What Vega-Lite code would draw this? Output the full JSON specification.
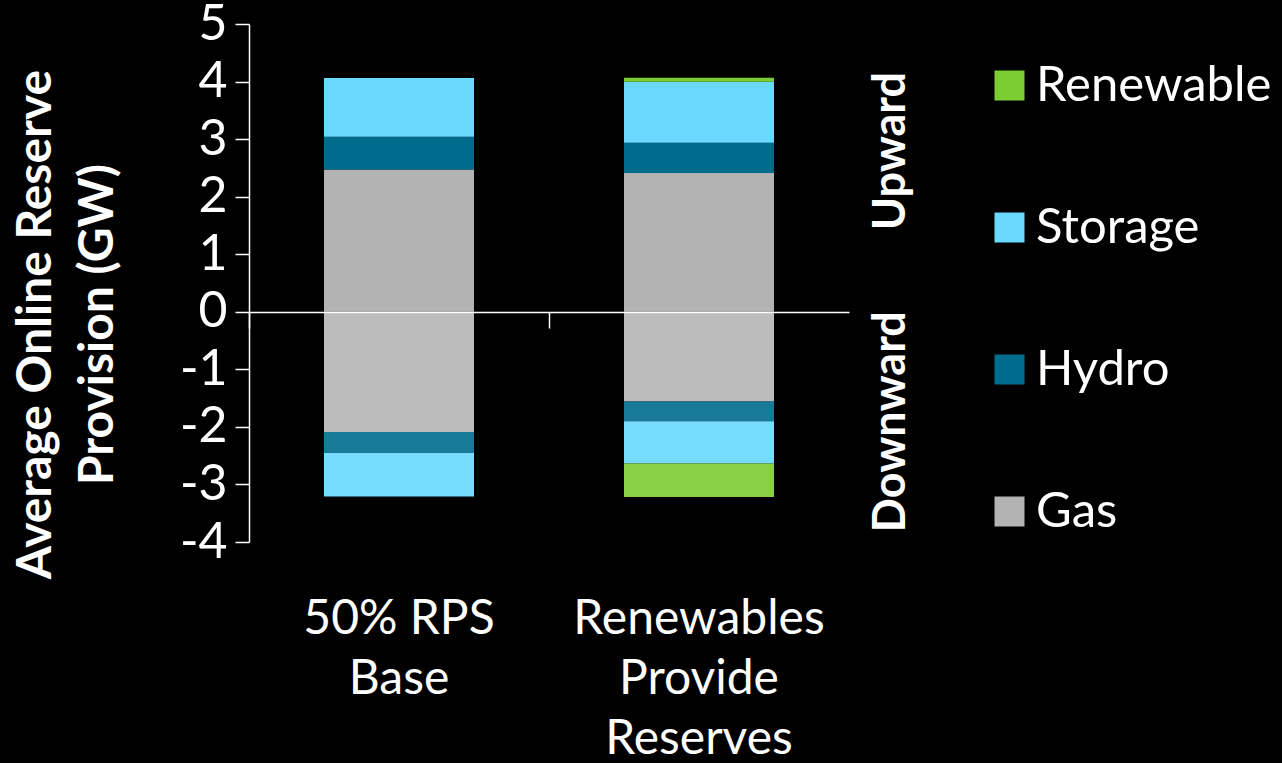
{
  "$schema": "https://vega.github.io/schema/vega-lite/v6.json",
  "width": 600,
  "height": 518,
  "autosize": "none",
  "padding": {"left": 249, "top": 24, "right": 433, "bottom": 221},
  "background": "black",
  "config": {
    "view": {"stroke": null},
    "font": "Lato"
  },
  "data": {
    "values": [
      {"scenario": "50% RPS|Base", "shade": "Gas", "ord": 1, "value": 2.47},
      {"scenario": "50% RPS|Base", "shade": "Hydro", "ord": 2, "value": 0.57},
      {"scenario": "50% RPS|Base", "shade": "Storage", "ord": 3, "value": 1.02},
      {"scenario": "50% RPS|Base", "shade": "Gas downward", "ord": 1, "value": -2.09},
      {"scenario": "50% RPS|Base", "shade": "Hydro downward", "ord": 2, "value": -0.365},
      {"scenario": "50% RPS|Base", "shade": "Storage downward", "ord": 3, "value": -0.755},
      {"scenario": "Renewables|Provide|Reserves", "shade": "Gas", "ord": 1, "value": 2.41},
      {"scenario": "Renewables|Provide|Reserves", "shade": "Hydro", "ord": 2, "value": 0.525},
      {"scenario": "Renewables|Provide|Reserves", "shade": "Storage", "ord": 3, "value": 1.06},
      {"scenario": "Renewables|Provide|Reserves", "shade": "Renewable", "ord": 4, "value": 0.07},
      {"scenario": "Renewables|Provide|Reserves", "shade": "Gas downward", "ord": 1, "value": -1.56},
      {"scenario": "Renewables|Provide|Reserves", "shade": "Hydro downward", "ord": 2, "value": -0.34},
      {"scenario": "Renewables|Provide|Reserves", "shade": "Storage downward", "ord": 3, "value": -0.735},
      {"scenario": "Renewables|Provide|Reserves", "shade": "Renewable downward", "ord": 4, "value": -0.585}
    ]
  },
  "layer": [
    {
      "mark": {"type": "bar"},
      "encoding": {
        "x": {
          "field": "scenario", "type": "nominal", "sort": null,
          "scale": {"paddingInner": 0.5, "paddingOuter": 0.25},
          "axis": {
            "title": null, "domain": false, "ticks": false, "labelAngle": 0,
            "labelExpr": "split(datum.value, '|')", "labelLimit": 0,
            "labelFontSize": 48, "labelColor": "white", "labelLineHeight": 60,
            "labelPadding": 53, "labelBaseline": "top"
          }
        },
        "y": {
          "field": "value", "type": "quantitative", "stack": "zero",
          "scale": {"domain": [-4, 5], "nice": false},
          "axis": {
            "values": [-4, -3, -2, -1, 0, 1, 2, 3, 4, 5],
            "labelExpr": "toString(datum.value)",
            "grid": false, "domainColor": "white", "domainWidth": 1.5,
            "tickColor": "white", "tickSize": 14, "tickWidth": 1.5,
            "labelFontSize": 50, "labelColor": "white", "labelPadding": 8,
            "title": ["Average Online Reserve", "Provision (GW)"],
            "titleColor": "white", "titleFontSize": 48, "titleFontWeight": "bold",
            "titleLineHeight": 62, "titleX": -237, "titleY": 300, "titleLimit": 0,
            "titleBaseline": "top", "titleAngle": -90
          }
        },
        "color": {
          "field": "shade", "type": "nominal",
          "scale": {
            "domain": ["Renewable", "Storage", "Hydro", "Gas", "Renewable downward", "Storage downward", "Hydro downward", "Gas downward"],
            "range": ["#7ccd33", "#69d9ff", "#006c8d", "#b3b3b3", "#88d146", "#78dcff", "#177b98", "#bcbcbc"]
          },
          "legend": {
            "values": ["Renewable", "Storage", "Hydro", "Gas"],
            "title": null, "orient": "none", "legendX": 736, "legendY": 37,
            "symbolType": "square", "symbolSize": 900, "symbolStrokeWidth": 0,
            "labelFontSize": 49, "labelColor": "white", "labelOffset": 2,
            "labelLimit": 0, "rowPadding": 92
          }
        },
        "order": {"field": "ord", "type": "quantitative"}
      }
    },
    {
      "mark": {"type": "bar", "opacity": 0},
      "encoding": {
        "x": {
          "field": "scenario", "type": "nominal", "sort": null,
          "axis": {
            "orient": "bottom",
            "title": null, "labels": false, "offset": -230, "zindex": 1,
            "domainColor": "white", "domainWidth": 1.5, "bandPosition": -0.5,
            "tickColor": "white", "tickWidth": 1.5, "tickSize": 16
          }
        },
        "y": {
          "field": "value", "type": "quantitative", "stack": "zero",
          "axis": {
            "orient": "right", "values": [2.8, -1.9], "title": null,
            "domain": false, "ticks": false, "tickSize": 0, "grid": false,
            "labelExpr": "datum.value > 0 ? 'Upward' : 'Downward'", "labelLimit": 0,
            "labelAngle": -90, "labelAlign": "center", "labelBaseline": "top",
            "labelFontSize": 45, "labelFontWeight": "bold", "labelColor": "white",
            "labelPadding": 19
          }
        },
        "order": {"field": "ord", "type": "quantitative"}
      }
    }
  ],
  "resolve": {"axis": {"x": "independent", "y": "independent"}}
}
